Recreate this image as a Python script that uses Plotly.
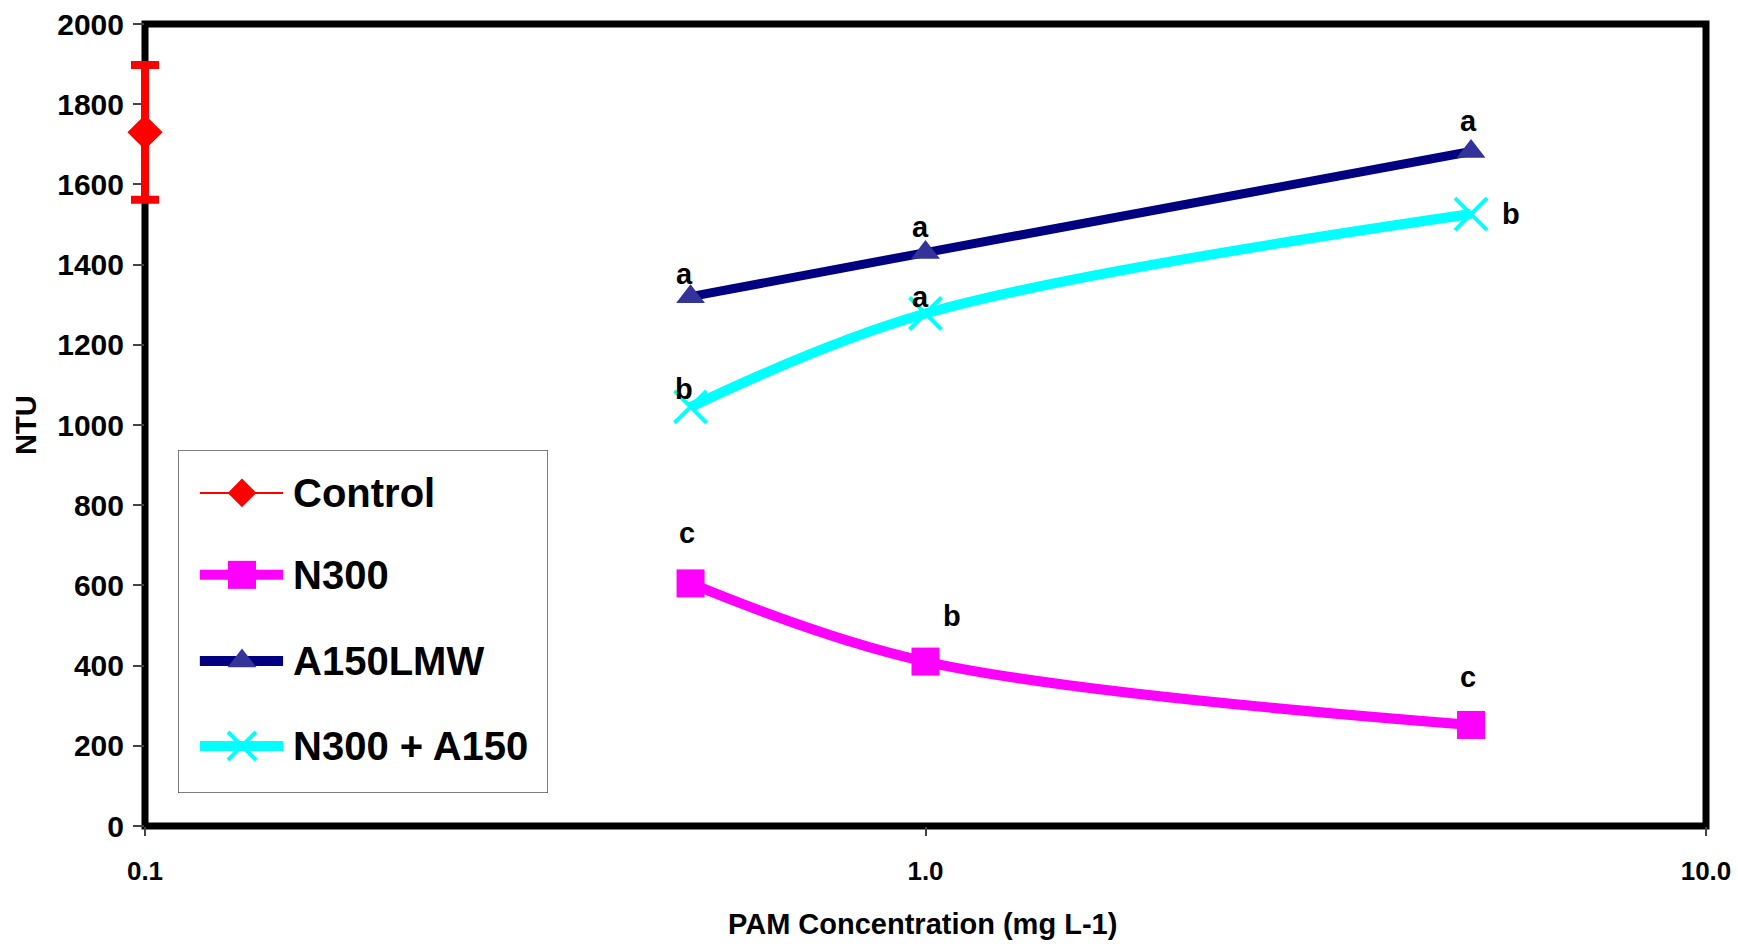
import numpy as np
import plotly.graph_objects as go

# ---- data -------------------------------------------------------------
pam_conc = [0.5, 1.0, 5.0]          # mg L-1
n300 = [605, 410, 252]
a150lmw = [1320, 1430, 1682]
n300_a150 = [1045, 1278, 1526]

control_x = [0.1]
control_ntu = [1730]
control_err = [168]

# significance letters per series / concentration
n300_letters = ["c", "b", "c"]
a150_letters = ["a", "a", "a"]
mix_letters = ["b", "a", "b"]

y_ticks = [0, 200, 400, 600, 800, 1000, 1200, 1400, 1600, 1800, 2000]
x_ticks = [0.1, 1.0, 10.0]
x_tick_text = ["0.1", "1.0", "10.0"]

series_names = ["Control", "N300", "A150LMW", "N300 + A150"]

# ---- layout geometry (figure pixels) ------------------------------------
FIG_W, FIG_H = 1738, 944
M_L, M_R, M_T, M_B = 100, 32, 24, 118      # outer margins
PLOT_L = 145                               # left edge of the framed plot
AREA_W = FIG_W - M_L - M_R
AREA_H = FIG_H - M_T - M_B
AREA_BOTTOM = FIG_H - M_B
X_LOG_RANGE = [-1.0, 1.0]


def fx(px):
    """figure x pixel -> paper fraction"""
    return (px - M_L) / AREA_W


def fy(py):
    """figure y pixel -> paper fraction"""
    return (AREA_BOTTOM - py) / AREA_H


main_x0 = fx(PLOT_L)
# a wider companion axis with the same scale, so the control bar at the
# left boundary is not clipped
log_per_px = (X_LOG_RANGE[1] - X_LOG_RANGE[0]) / (FIG_W - M_R - PLOT_L)
wide_range = [X_LOG_RANGE[0] - (PLOT_L - M_L) * log_per_px, X_LOG_RANGE[1]]

# ---- styles -----------------------------------------------------------
FONT = "Liberation Sans, Arial, sans-serif"
RED = "#FF0000"
MAGENTA = "#FF00FF"
NAVY = "#000080"
TRI = "#333399"
CYAN = "#00FFFF"

fig = go.Figure()

# main series
fig.add_trace(go.Scatter(
    x=pam_conc, y=a150lmw, mode="lines+markers", name="A150LMW",
    line=dict(color=NAVY, width=9, shape="spline"),
    marker=dict(symbol="triangle-up", size=25, color=TRI),
))
fig.add_trace(go.Scatter(
    x=pam_conc, y=n300_a150, mode="lines+markers", name="N300 + A150",
    line=dict(color=CYAN, width=10, shape="spline"),
    marker=dict(symbol="x-thin", size=32, color=CYAN,
                line=dict(color=CYAN, width=4)),
))
fig.add_trace(go.Scatter(
    x=pam_conc, y=n300, mode="lines+markers", name="N300",
    line=dict(color=MAGENTA, width=10, shape="spline"),
    marker=dict(symbol="square", size=28, color=MAGENTA),
))
fig.add_trace(go.Scatter(
    x=control_x, y=control_ntu, mode="markers", name="Control",
    xaxis="x3", yaxis="y3",
    marker=dict(symbol="diamond", size=27, color=RED),
    error_y=dict(type="data", array=control_err, visible=True,
                 color=RED, thickness=8, width=14),
    cliponaxis=False,
))

# letters above / beside points (pixel offsets)
annotations = []
letter_sets = [
    (a150lmw, a150_letters, [(-6, 23), (-5, 26), (-3, 31)]),
    (n300_a150, mix_letters, [(-7, 18), (-5, 17), (40, 0)]),
    (n300, n300_letters, [(-4, 50), (26, 46), (-3, 48)]),
]
for vals, letters, offs in letter_sets:
    for xv, yv, lt, (dx, dy) in zip(pam_conc, vals, letters, offs):
        annotations.append(dict(
            x=np.log10(xv), y=yv, xref="x", yref="y", text=lt,
            showarrow=False, xshift=dx, yshift=dy,
            font=dict(family=FONT, size=29, color="black", weight="bold"),
        ))

# axis titles
annotations.append(dict(
    x=fx(922), y=fy(942), xref="paper", yref="paper",
    text="PAM Concentration (mg L-1)", showarrow=False,
    xanchor="center", yanchor="bottom",
    font=dict(family=FONT, size=29, color="black", weight="bold"),
))
annotations.append(dict(
    x=fx(26), y=fy(425), xref="paper", yref="paper", text="NTU",
    showarrow=False, textangle=-90, xanchor="center", yanchor="middle",
    font=dict(family=FONT, size=29, color="black", weight="bold"),
))

# ---- legend built on a hidden inset axis (units 0..1 inside the box) ----
leg_rows = [0.875, 0.636, 0.385, 0.137]
leg_line = [0.059, 0.284]
leg_mark = [0.173]
leg_styles = [
    dict(color=RED, lw=2, symbol="diamond", size=22, mcolor=RED, mline=0),
    dict(color=MAGENTA, lw=10, symbol="square", size=28, mcolor=MAGENTA, mline=0),
    dict(color=NAVY, lw=10, symbol="triangle-up", size=25, mcolor=TRI, mline=0),
    dict(color=CYAN, lw=10, symbol="x-thin", size=28, mcolor=CYAN, mline=4),
]
for name, ry, st in zip(series_names, leg_rows, leg_styles):
    fig.add_trace(go.Scatter(
        x=leg_line, y=[ry, ry], xaxis="x2", yaxis="y2", mode="lines",
        line=dict(color=st["color"], width=st["lw"]),
        hoverinfo="skip", opacity=1,
    ))
    fig.add_trace(go.Scatter(
        x=leg_mark, y=[ry], xaxis="x2", yaxis="y2", mode="markers",
        marker=dict(symbol=st["symbol"], size=st["size"], color=st["mcolor"],
                    opacity=1,
                    line=dict(color=st["mcolor"], width=st["mline"])),
        hoverinfo="skip", cliponaxis=False, opacity=1,
    ))
    annotations.append(dict(
        x=0.306, y=ry, xref="x2", yref="y2", text=name, showarrow=False,
        xanchor="left", yanchor="middle",
        font=dict(family=FONT, size=40, color="black", weight="bold"),
    ))

shapes = [
    # plot frame
    dict(type="rect", xref="x domain", yref="y domain", x0=0, x1=1, y0=0, y1=1,
         line=dict(color="black", width=7), layer="below"),
    # legend box
    dict(type="rect", xref="x2", yref="y2", x0=0, x1=1, y0=0, y1=1,
         line=dict(color="#555555", width=1.5), fillcolor="white",
         layer="below"),
]

fig.update_layout(
    width=FIG_W, height=FIG_H,
    margin=dict(l=M_L, r=M_R, t=M_T, b=M_B),
    paper_bgcolor="white", plot_bgcolor="rgba(0,0,0,0)",
    showlegend=False,
    font=dict(family=FONT, color="black"),
    xaxis=dict(
        domain=[main_x0, 1], anchor="y",
        type="log", range=X_LOG_RANGE, tickvals=x_ticks, ticktext=x_tick_text,
        showgrid=False, zeroline=False, showline=False, automargin=False,
        ticks="outside", ticklen=9, tickwidth=1.5, tickcolor="#444",
        ticklabelstandoff=13,
        tickfont=dict(family=FONT, size=26, color="black", weight="bold"),
    ),
    yaxis=dict(
        domain=[0, 1], anchor="x",
        range=[0, 2000], tickvals=y_ticks, showgrid=False, zeroline=False,
        showline=False, automargin=False, ticks="outside", ticklen=11,
        tickwidth=1.5, tickcolor="#444", ticklabelstandoff=3,
        tickfont=dict(family=FONT, size=30, color="black", weight="bold"),
    ),
    xaxis2=dict(domain=[fx(178), fx(548)], range=[0, 1], visible=False,
                anchor="y2", fixedrange=True),
    yaxis2=dict(domain=[fy(793), fy(450)], range=[0, 1], visible=False,
                anchor="x2", fixedrange=True),
    xaxis3=dict(domain=[0, 1], type="log", range=wide_range, visible=False,
                anchor="y3", fixedrange=True),
    yaxis3=dict(domain=[0, 1], range=[0, 2000], visible=False,
                anchor="x3", fixedrange=True),
    annotations=annotations,
    shapes=shapes,
)

fig.write_html("out.html")
